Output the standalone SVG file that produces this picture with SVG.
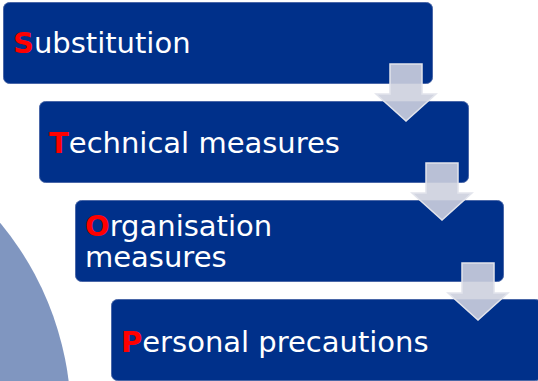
<svg xmlns="http://www.w3.org/2000/svg" width="538" height="381" viewBox="0 0 538 381">
<style>
.box{fill:#00308a;stroke:#4a67a8;stroke-width:1}
.lbl{font-family:"DejaVu Sans",Verdana,sans-serif;font-size:29px;fill:#ffffff}
.ini{fill:#ff0000;font-weight:bold}
.arr{fill:#cdd0de;fill-opacity:0.9;stroke:#e2e4ec;stroke-width:1.5;stroke-linejoin:miter}
</style>
<rect width="538" height="381" fill="#ffffff"/>
<circle cx="-236" cy="419" r="307" fill="#8096c0"/>
<g id="n1"><rect class="box" x="3.5" y="2.5" width="429" height="81" rx="6"/>
<text class="lbl" x="13" y="53"><tspan class="ini">S</tspan>ubstitution</text></g>
<g id="n2"><rect class="box" x="39.5" y="101.5" width="429" height="81" rx="6"/>
<text class="lbl" x="49" y="153"><tspan class="ini">T</tspan>echnical measures</text></g>
<g id="n3"><rect class="box" x="75.5" y="200.5" width="428" height="81" rx="6"/>
<text class="lbl" x="85" y="236"><tspan class="ini">O</tspan>rganisation</text>
<text class="lbl" x="85" y="267">measures</text></g>
<g id="n4"><rect class="box" x="111.5" y="299.5" width="430" height="81" rx="6"/>
<text class="lbl" x="121" y="352"><tspan class="ini">P</tspan>ersonal precautions</text></g>
<g id="connectors">
<path class="arr" d="M390,64 H422 V94 H436 L406,121 L376,94 H390 Z"/>
<path class="arr" d="M426,163 H458 V193 H472 L442,220 L412,193 H426 Z"/>
<path class="arr" d="M462,263 H494 V293 H508 L478,320 L448,293 H462 Z"/>
</g>
</svg>
